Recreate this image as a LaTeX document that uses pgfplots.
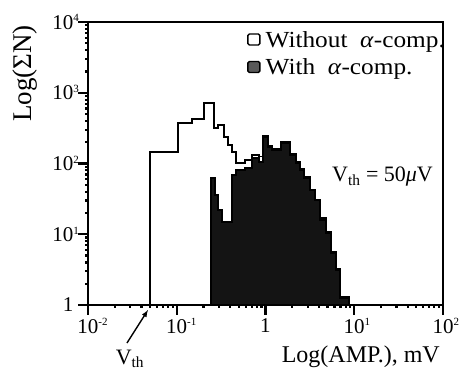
\documentclass[border=0pt]{standalone}
\usepackage{pgfplots}
\pgfplotsset{compat=1.18}
\usepackage{fontspec}
\setmainfont{Liberation Serif}
\newcommand{\sz}[1]{\fontsize{#1}{#1}\selectfont}
\newcommand{\ex}[1]{\rlap{\raisebox{0.75ex}{\sz{11}#1}}}
\newcommand{\wide}[1]{\scalebox{1.1}[1]{#1}}
\begin{document}
\begin{tikzpicture}
\path[use as bounding box] (-88pt,-71pt) rectangle (376pt,305pt);
\begin{axis}[
  at={(0,0)}, anchor=south west,
  scale only axis, width=355pt, height=283pt,
  xmode=log, ymode=log,
  xmin=0.01, xmax=100, ymin=1, ymax=10000,
  axis line style={line width=2pt},
  xtick={0.01,0.1,1,10,100},
  xticklabels={10\ex{-2},10\ex{-1},1,10\ex{1},10\ex{2}},
  ytick={1,10,100,1000,10000},
  yticklabels={1,10\ex{1},10\ex{2},10\ex{3},10\ex{4}},
  minor xtick={}, minor ytick={},
  tick align=outside, tick pos=left,
  major tick length=10pt,
  xtick style={draw=black, line width=2.2pt},
  ytick style={draw=black, line width=2.2pt},
  ticklabel style={font=\sz{21}},
  yticklabel style={xshift=-1pt},
  clip=false,
  legend style={draw=none, fill=none, at={(0.448,0.975)}, anchor=north west,
    font=\sz{23}, row sep=6pt, inner sep=0pt, cells={anchor=west}},
  legend cell align=left,
]
\addplot[const plot, fill=white, draw=black, line width=1.7pt,
  legend image code/.code={\draw[black, line width=1.4pt, fill=white, rounded corners=1.5pt] (0pt,-5pt) rectangle (12pt,6pt);}]
coordinates {(0.05,1) (0.05,146) (0.103,374) (0.149,425) (0.203,716) (0.263,318) (0.292,350) (0.341,237) (0.378,182) (0.419,146) (0.466,102) (0.588,112) (0.705,132) (0.845,125) (0.937,245) (1.067,178) (1.183,160) (1.495,202) (1.889,137) (2.206,106) (2.447,84) (2.715,64) (3.17,43) (3.61,31) (4.11,17) (4.81,10.8) (5.47,5.6) (6.23,3.2) (6.91,1.3) (8.73,1)} -- cycle;
\addlegendentry{\hspace{3pt}\wide{Without\ \ \textit{α}-comp.}}
\addplot[const plot, fill=black!92, draw=black, line width=1.7pt,
  legend image code/.code={\draw[black, line width=1.4pt, fill=black!65, rounded corners=1.5pt] (0pt,-5pt) rectangle (12pt,6pt);}]
coordinates {(0.243,1) (0.243,62) (0.270,36) (0.292,22) (0.324,15) (0.420,69) (0.466,81) (0.588,87) (0.705,120) (0.845,105) (0.937,237) (1.067,171) (1.183,155) (1.495,195) (1.889,132) (2.206,102) (2.447,81) (2.715,62) (3.17,42) (3.61,30) (4.11,16) (4.81,10.4) (5.47,5.4) (6.23,3.1) (6.91,1.25) (8.73,1)} -- cycle;
\addlegendentry{\hspace{3pt}\wide{With\ \ \textit{α}-comp.}}
% tick marks (outside)
\draw[line width=2.2pt] (axis cs:0.01,1) -- ([yshift=-10pt]axis cs:0.01,1);
\draw[line width=2.2pt] (axis cs:0.1,1) -- ([yshift=-10pt]axis cs:0.1,1);
\draw[line width=2.2pt] (axis cs:1,1) -- ([yshift=-10pt]axis cs:1,1);
\draw[line width=2.2pt] (axis cs:10,1) -- ([yshift=-10pt]axis cs:10,1);
\draw[line width=2.2pt] (axis cs:100,1) -- ([yshift=-10pt]axis cs:100,1);
\draw[line width=2.2pt] (axis cs:0.01,1) -- ([xshift=-9pt]axis cs:0.01,1);
\draw[line width=2.2pt] (axis cs:0.01,10) -- ([xshift=-9pt]axis cs:0.01,10);
\draw[line width=2.2pt] (axis cs:0.01,100) -- ([xshift=-9pt]axis cs:0.01,100);
\draw[line width=2.2pt] (axis cs:0.01,1000) -- ([xshift=-9pt]axis cs:0.01,1000);
\draw[line width=2.2pt] (axis cs:0.01,10000) -- ([xshift=-9pt]axis cs:0.01,10000);
\node[anchor=base west, font=\sz{22}, inner sep=0pt] at (axis cs:5.61,54.8) {V\textsubscript{th} = 50\textit{μ}V};
\node[anchor=base east, font=\sz{24}, inner sep=0pt] at ([xshift=-3pt,yshift=-57pt]axis cs:100,1) {Log(AMP.), mV};
\node[anchor=base, font=\sz{22}, inner sep=0pt] at ([yshift=-59pt]axis cs:0.0297,1) {V\textsubscript{th}};
\draw[line width=1.4pt, -latex] ([yshift=-38pt]axis cs:0.0275,1) -- ([yshift=-5pt]axis cs:0.0474,1);
\node[rotate=90, anchor=center, font=\sz{27}, inner sep=0pt] at (rel axis cs:-0.176,0.818) {Log(ΣN)};
\end{axis}
\end{tikzpicture}
\end{document}
